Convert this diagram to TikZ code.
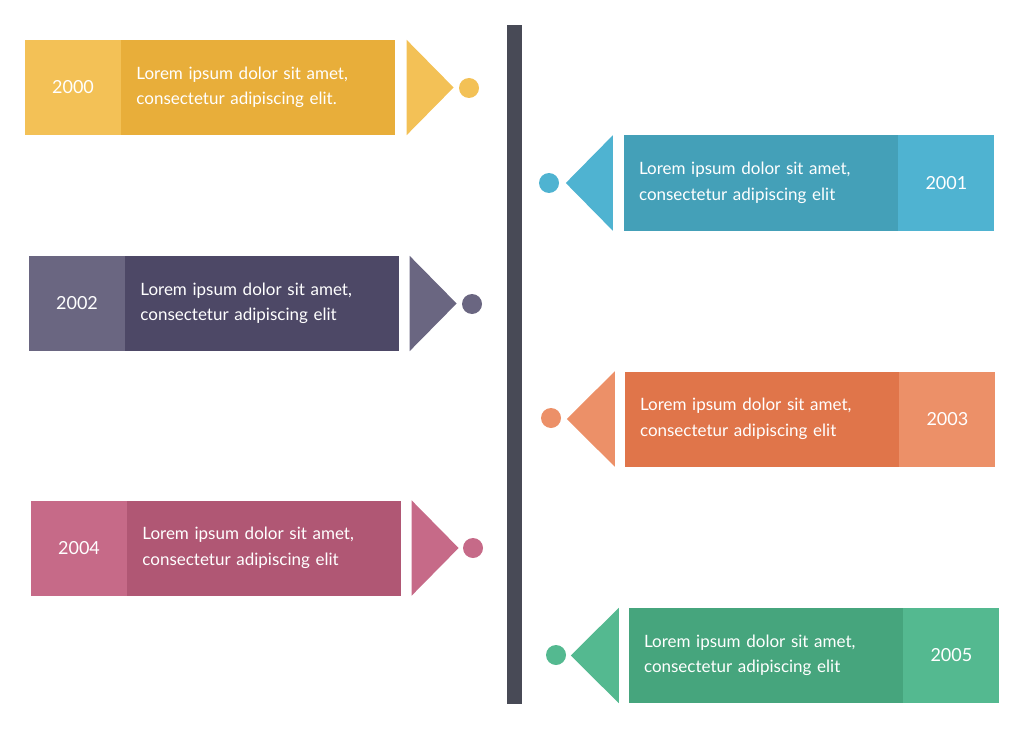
\documentclass[tikz,border=0pt]{standalone}
\usepackage{fontspec}
\setmainfont{Lato}
\usetikzlibrary{positioning,calc}
\definecolor{tlbar}{HTML}{484A56}
\definecolor{ylwA}{HTML}{F3C156}
\definecolor{ylwB}{HTML}{E8AE3A}
\definecolor{tealA}{HTML}{4FB3D1}
\definecolor{tealB}{HTML}{44A0B8}
\definecolor{purA}{HTML}{6A6681}
\definecolor{purB}{HTML}{4D4866}
\definecolor{orgA}{HTML}{EC9068}
\definecolor{orgB}{HTML}{E0754A}
\definecolor{pnkA}{HTML}{C66A88}
\definecolor{pnkB}{HTML}{B05774}
\definecolor{grnA}{HTML}{54B990}
\definecolor{grnB}{HTML}{46A57D}
\tikzset{
    yearbox/.style={
        fill=#1,minimum width=96pt,minimum height=95pt,inner sep=0pt,
        text=white,font=\fontsize{18}{20}\selectfont
    },
    textbox/.style={
        fill=#1,minimum height=95pt,text width=244pt,inner xsep=15pt,
        inner ysep=0pt,align=left,text=white,
        font=\fontsize{17}{25.5}\selectfont
    },
    dot/.style={
        circle,fill=#1,minimum size=20pt,inner sep=0pt
    }
}

\begin{document}
\begin{tikzpicture}[x=1pt,y=-1pt]
\useasboundingbox (0,0) rectangle (1024,730);

% axis
\fill[tlbar] (507,25) rectangle (522,704);

% 2000
\node[yearbox=ylwA] (y2000) at (73,87.5) {2000};
\node[textbox=ylwB,right=0pt of y2000] (t2000)
{Lorem ipsum dolor sit amet,\\consectetur adipiscing elit.};
\fill[ylwA] ($(t2000.north east)+(11,0)$) -- ($(t2000.east)+(58,0)$)
  -- ($(t2000.south east)+(11,0)$) -- cycle;
\node[dot=ylwA] (d2000) at (469,88) {};

% 2001
\node[textbox=tealB] (t2001) at (761,183) 
{Lorem ipsum dolor sit amet,\\consectetur adipiscing elit};
\node[yearbox=tealA,right=0pt of t2001] (y2001) {2001};
\fill[tealA] ($(t2001.north west)+(-11,0)$) -- ($(t2001.west)+(-58,0)$)
  -- ($(t2001.south west)+(-11,0)$) -- cycle;
\node[dot=tealA] (d2001) at (549,183) {};

% 2002
\node[yearbox=purA] (y2002) at (77,303.5) {2002};
\node[textbox=purB,right=0pt of y2002] (t2002)
{Lorem ipsum dolor sit amet,\\consectetur adipiscing elit};
\fill[purA] ($(t2002.north east)+(10,0)$) -- ($(t2002.east)+(57,0)$)
  -- ($(t2002.south east)+(10,0)$) -- cycle;
\node[dot=purA] (d2002) at (472,304) {};

% 2003
\node[textbox=orgB] (t2003) at (762,419)
{Lorem ipsum dolor sit amet,\\consectetur adipiscing elit};
\node[yearbox=orgA,right=0pt of t2003] (y2003) {2003};
\fill[orgA] ($(t2003.north west)+(-10,0)$) -- ($(t2003.west)+(-58,0)$)
  -- ($(t2003.south west)+(-10,0)$) -- cycle;
\node[dot=orgA] (d2003) at (551,418) {};

% 2004
\node[yearbox=pnkA] (y2004) at (79,548) {2004};
\node[textbox=pnkB,right=0pt of y2004] (t2004)
{Lorem ipsum dolor sit amet,\\consectetur adipiscing elit};
\fill[pnkA] ($(t2004.north east)+(10,0)$) -- ($(t2004.east)+(57,0)$)
  -- ($(t2004.south east)+(10,0)$) -- cycle;
\node[dot=pnkA] (d2004) at (473,548) {};

% 2005
\node[textbox=grnB] (t2005) at (766,655.5)
{Lorem ipsum dolor sit amet,\\consectetur adipiscing elit};
\node[yearbox=grnA,right=0pt of t2005] (y2005) {2005};
\fill[grnA] ($(t2005.north west)+(-10,0)$) -- ($(t2005.west)+(-58,0)$)
  -- ($(t2005.south west)+(-10,0)$) -- cycle;
\node[dot=grnA] (d2005) at (556,655) {};

\end{tikzpicture}
\end{document}
